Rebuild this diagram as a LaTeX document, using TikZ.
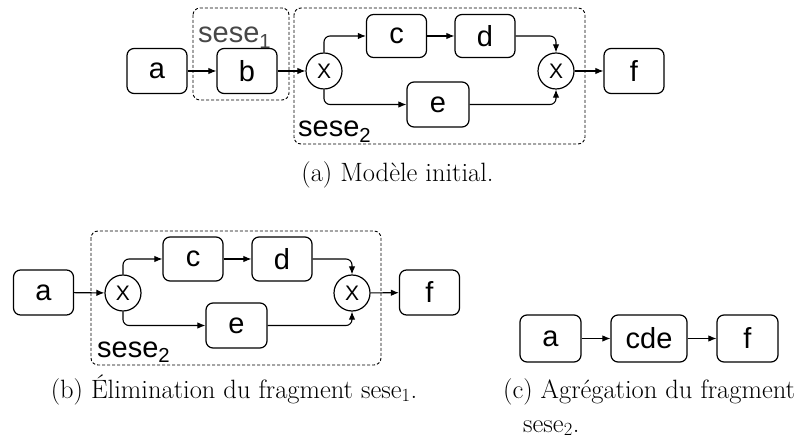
\documentclass[tikz,border=0pt]{standalone}
\usepackage{fontspec}
\newfontfamily\boxfont{Liberation Sans}
\usetikzlibrary{arrows.meta,positioning,shapes.geometric,calc}
\tikzset{
  task/.style={draw, rectangle, rounded corners=7pt, line width=1.2pt, inner sep=0pt, minimum width=60pt, minimum height=45pt, font=\boxfont\fontsize{29}{32}\selectfont},
  xgate/.style={draw, circle, line width=1.2pt, inner sep=0pt, minimum size=36pt, font=\boxfont\fontsize{21}{22}\selectfont},
  fragment/.style={draw, rectangle, rounded corners=7pt, dash pattern=on 3pt off 2pt, line width=0.9pt},
  fraglabel/.style={anchor=base west, inner sep=0pt, font=\boxfont\fontsize{29}{32}\selectfont},
  caption/.style={anchor=base, inner sep=0pt, font=\fontsize{26.5}{30}\selectfont},
  arr/.style={-{Latex[length=8pt,width=6.5pt]}, line width=1.1pt},
  branch/.style={arr, rounded corners=6pt}
}

\begin{document}
\begin{tikzpicture}[x=1pt,y=-1pt]
\useasboundingbox (0,0) rectangle (800,443);

% (a) initial model
\draw[fragment] (193,8) rectangle (289,100);
\draw[fragment] (294,8) rectangle (585,144);
\node[fraglabel,text=black!72] (lblsesea) at (198,43) {sese\textsubscript{1}};
\node[fraglabel] (lblseseb) at (298,137) {sese\textsubscript{2}};

\node[task] (a1) at (157,71) {a};
\node[task] (b1) at (247,71) {b};
\node[xgate] (split1) at (324,71) {X};
\node[task,minimum height=43pt] (c1) at (396.5,36) {c};
\node[task,minimum height=43pt] (d1) at (485,36) {d};
\node[task,minimum width=62pt] (e1) at (438,104.5) {e};
\node[xgate] (join1) at (556,71) {X};
\node[task] (f1) at (634,71) {f};

\draw[arr] (a1) -- (b1);
\draw[arr] (b1) -- (split1);
\draw[branch] (split1.north) |- (c1.west);
\draw[arr] (c1) -- (d1);
\draw[branch] (d1.east) -| (join1.north);
\draw[branch] (split1.south) |- (e1.west);
\draw[branch] (e1.east) -| (join1.south);
\draw[arr] (join1) -- (f1);

\node[caption] (capa) at (397.5,182) {(a) Modèle initial.};

% (b) sese1 removed
\draw[fragment] (91,231) rectangle (381,365);
\node[fraglabel] (lblsesec) at (97,357) {sese\textsubscript{2}};

\node[task] (a2) at (43.5,292.5) {a};
\node[xgate] (split2) at (123,293) {X};
\node[task,minimum height=44pt] (c2) at (193,259) {c};
\node[task,minimum height=44pt] (d2) at (282,259) {d};
\node[task,minimum width=61pt] (e2) at (236.5,325.5) {e};
\node[xgate] (join2) at (352,293) {X};
\node[task] (f2) at (429.5,292.5) {f};

\draw[arr] (a2) -- (split2);
\draw[branch] (split2.north) |- (c2.west);
\draw[arr] (c2) -- (d2);
\draw[branch] (d2.east) -| (join2.north);
\draw[branch] (split2.south) |- (e2.west);
\draw[branch] (e2.east) -| (join2.south);
\draw[arr] (join2) -- (f2);

\node[caption] (capb) at (234,398) {(b) Élimination du fragment sese\textsubscript{1}.};

% (c) sese2 aggregated
\node[task,minimum width=61pt,minimum height=47pt] (a3) at (550.5,338.5) {a};
\node[task,minimum width=76pt,minimum height=47pt] (cde3) at (649,338.5) {cde};
\node[task,minimum width=61pt,minimum height=47pt] (f3) at (747.5,338.5) {f};

\draw[arr] (a3) -- (cde3);
\draw[arr] (cde3) -- (f3);

\node[caption,anchor=base west] (capc) at (503,398) {(c) Agrégation du fragment};
\node[caption,anchor=base west] (capcc) at (523,432) {sese\textsubscript{2}.};
\end{tikzpicture}
\end{document}
